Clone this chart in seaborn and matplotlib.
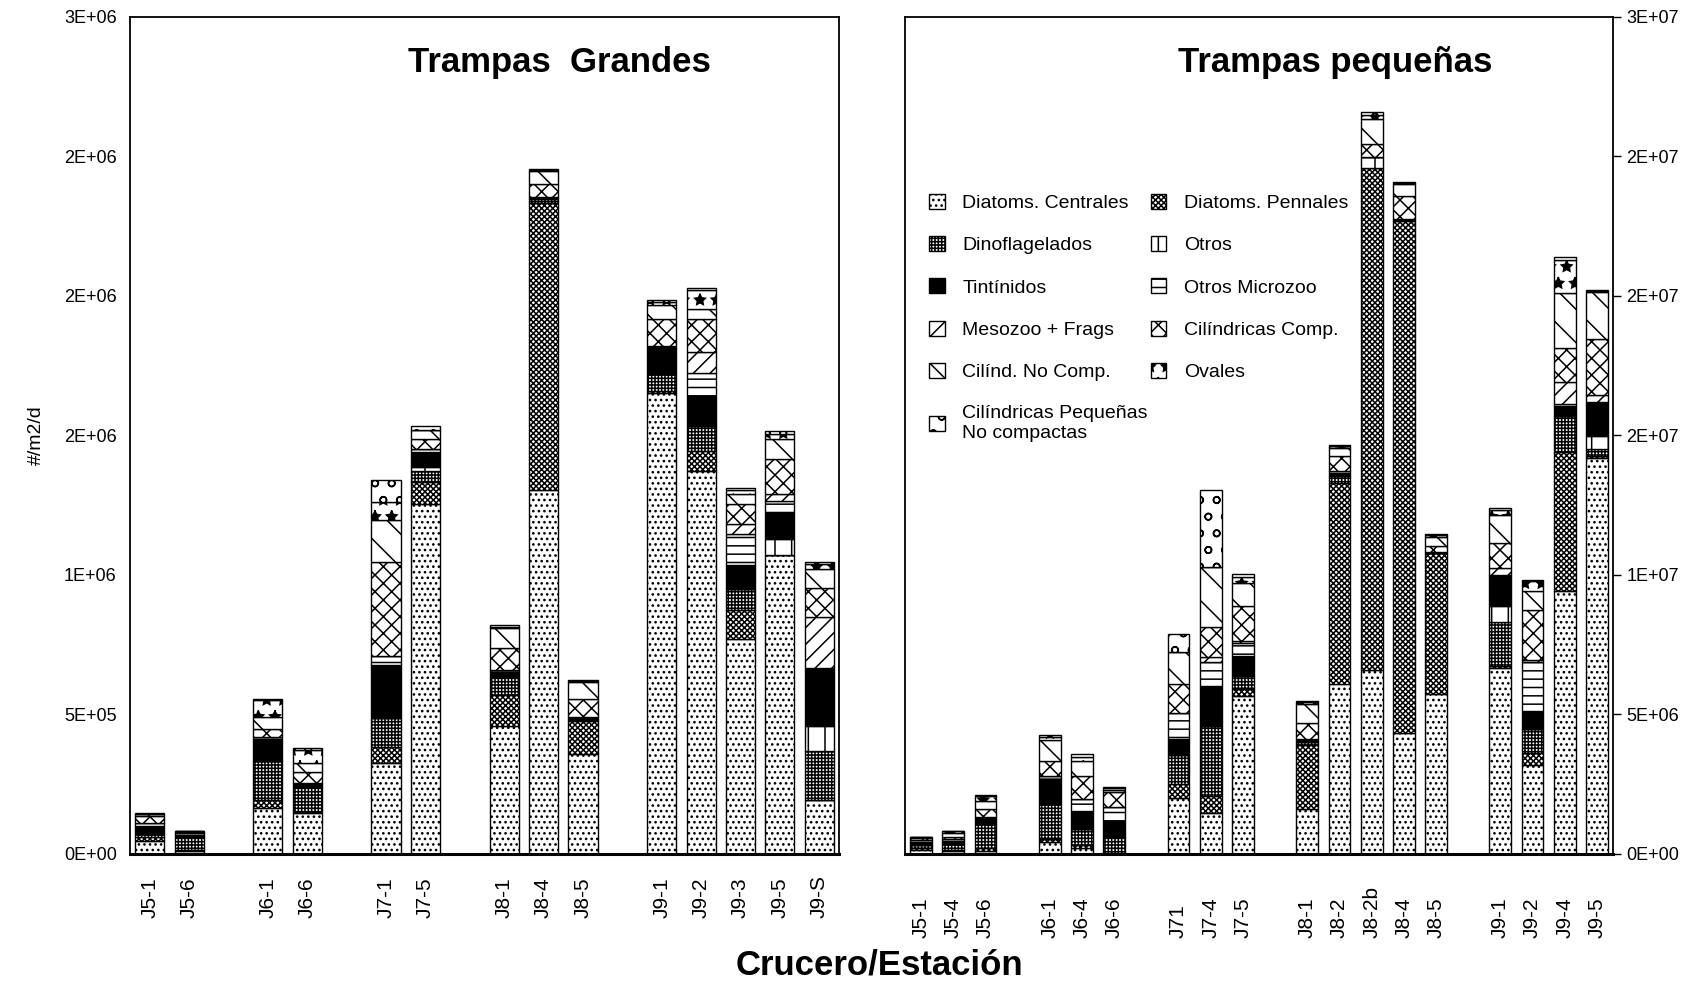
import numpy as np
import pandas as pd
import matplotlib
matplotlib.use("Agg")
import matplotlib.pyplot as plt
from matplotlib.patches import Patch
from matplotlib.colors import to_hex
from matplotlib.ticker import FuncFormatter, MultipleLocator
import seaborn as sns

# ---------------------------------------------------------------- data
# Groups in stacking order (bottom -> top)
grupos = ["Diatoms. Centrales", "Diatoms. Pennales", "Dinoflagelados", "Otros",
          "Tintínidos", "Otros Microzoo", "Mesozoo + Frags", "Cilíndricas Comp.",
          "Cilínd. No Comp.", "Ovales", "Cilíndricas Pequeñas\nNo compactas"]

# Trampas grandes: category axis (blank slots separate the cruises)
ejes_grandes = ["J5-1", "J5-6", "", "J6-1", "J6-6", "", "J7-1", "J7-5", "",
                "J8-1", "J8-4", "J8-5", "", "J9-1", "J9-2", "J9-3", "J9-5", "J9-S"]
# values in millions of #/m2/d, one entry per station (blanks skipped)
g_centrales = [0.045, 0.012, 0.164, 0.147, 0.325, 1.254, 0.459, 1.303, 0.357, 1.653, 1.372, 0.770, 1.072, 0.192]
g_pennales = [0.015, 0.004, 0.030, 0.003, 0.057, 0.078, 0.109, 1.029, 0.119, 0.005, 0.072, 0.106, 0.000, 0.000]
g_dino = [0.012, 0.045, 0.141, 0.090, 0.105, 0.042, 0.065, 0.016, 0.005, 0.063, 0.089, 0.073, 0.000, 0.178]
g_otros = [0.000, 0.000, 0.000, 0.000, 0.000, 0.012, 0.000, 0.000, 0.000, 0.000, 0.000, 0.000, 0.058, 0.089]
g_tint = [0.030, 0.008, 0.078, 0.010, 0.190, 0.054, 0.020, 0.005, 0.009, 0.096, 0.110, 0.085, 0.093, 0.205]
g_otrosmicro = [0.010, 0.005, 0.005, 0.003, 0.033, 0.012, 0.008, 0.003, 0.000, 0.005, 0.082, 0.112, 0.041, 0.003]
g_meso = [0.000, 0.000, 0.000, 0.000, 0.000, 0.000, 0.000, 0.000, 0.000, 0.000, 0.075, 0.038, 0.027, 0.182]
g_cilcomp = [0.025, 0.006, 0.031, 0.042, 0.335, 0.036, 0.077, 0.045, 0.067, 0.095, 0.117, 0.069, 0.126, 0.105]
g_cilnocomp = [0.006, 0.003, 0.042, 0.032, 0.152, 0.032, 0.073, 0.046, 0.060, 0.050, 0.037, 0.038, 0.069, 0.069]
g_ovales = [0.002, 0.001, 0.060, 0.046, 0.066, 0.000, 0.004, 0.004, 0.004, 0.010, 0.068, 0.012, 0.020, 0.015]
g_cilpeq = [0.002, 0.000, 0.005, 0.006, 0.078, 0.013, 0.005, 0.004, 0.004, 0.008, 0.008, 0.007, 0.010, 0.007]

# Trampas pequeñas
ejes_peq = ["J5-1", "J5-4", "J5-6", "", "J6-1", "J6-4", "J6-6", "", "J71", "J7-4", "J7-5", "",
            "J8-1", "J8-2", "J8-2b", "J8-4", "J8-5", "", "J9-1", "J9-2", "J9-4", "J9-5"]
p_centrales = [0.15, 0.10, 0.12, 0.42, 0.22, 0.02, 2.01, 1.46, 5.67, 1.61, 6.08, 6.60, 4.34, 5.73, 6.67, 3.19, 9.44, 14.20]
p_pennales = [0.05, 0.06, 0.10, 0.12, 0.10, 0.03, 0.50, 0.60, 0.24, 2.30, 7.21, 17.99, 18.34, 5.04, 0.05, 0.43, 4.97, 0.05]
p_dino = [0.12, 0.20, 0.85, 1.25, 0.57, 0.57, 1.02, 2.54, 0.48, 0.10, 0.27, 0.00, 0.05, 0.00, 1.58, 0.85, 1.28, 0.28]
p_otros = [0.00, 0.00, 0.00, 0.00, 0.00, 0.00, 0.00, 0.00, 0.00, 0.00, 0.00, 0.38, 0.00, 0.00, 0.57, 0.00, 0.00, 0.46]
p_tint = [0.12, 0.10, 0.25, 0.90, 0.66, 0.57, 0.60, 1.43, 0.72, 0.10, 0.10, 0.00, 0.03, 0.05, 1.09, 0.64, 0.38, 1.22]
p_otrosmicro = [0.05, 0.06, 0.02, 0.12, 0.42, 0.48, 0.92, 0.84, 0.44, 0.00, 0.05, 0.00, 0.00, 0.00, 0.05, 1.77, 0.05, 0.00]
p_meso = [0.00, 0.00, 0.00, 0.00, 0.00, 0.00, 0.00, 0.20, 0.10, 0.00, 0.00, 0.00, 0.00, 0.00, 0.24, 0.09, 0.80, 0.24]
p_cilcomp = [0.08, 0.08, 0.27, 0.51, 0.84, 0.54, 1.05, 1.05, 1.25, 0.58, 0.54, 0.49, 0.82, 0.21, 0.89, 1.76, 1.22, 1.99]
p_cilnocomp = [0.03, 0.15, 0.28, 0.76, 0.54, 0.10, 1.13, 2.17, 0.80, 0.69, 0.31, 0.87, 0.43, 0.34, 1.00, 0.71, 1.95, 1.70]
p_ovales = [0.01, 0.07, 0.20, 0.10, 0.14, 0.06, 0.00, 0.00, 0.22, 0.05, 0.05, 0.14, 0.04, 0.06, 0.18, 0.33, 1.21, 0.05]
p_cilpeq = [0.01, 0.02, 0.02, 0.08, 0.08, 0.04, 0.66, 2.75, 0.12, 0.04, 0.04, 0.12, 0.02, 0.04, 0.07, 0.05, 0.11, 0.04]

series_grandes = [g_centrales, g_pennales, g_dino, g_otros, g_tint, g_otrosmicro,
                  g_meso, g_cilcomp, g_cilnocomp, g_ovales, g_cilpeq]
series_peq = [p_centrales, p_pennales, p_dino, p_otros, p_tint, p_otrosmicro,
              p_meso, p_cilcomp, p_cilnocomp, p_ovales, p_cilpeq]

# ---------------------------------------------------------------- styles
# black & white fill for each group: (face colour, hatch)
estilos = {
    "Diatoms. Centrales": ("white", "..."),
    "Diatoms. Pennales": ("white", "xxxxxx"),
    "Dinoflagelados": ("white", "+++++"),
    "Otros": ("white", "|"),
    "Tintínidos": ("black", ""),
    "Otros Microzoo": ("white", "--"),
    "Mesozoo + Frags": ("white", "//"),
    "Cilíndricas Comp.": ("white", "xx"),
    "Cilínd. No Comp.": ("white", "\\"),
    "Ovales": ("white", "*"),
    "Cilíndricas Pequeñas\nNo compactas": ("white", "o"),
}
# temporary key colours used to identify each group's patches
claves = sns.color_palette("husl", len(grupos))
paleta = {g: c for g, c in zip(grupos, claves)}
clave_a_grupo = {to_hex(c): g for g, c in paleta.items()}


def tabla(ejes, series):
    estaciones = [s for s in ejes if s]
    filas = []
    for g, vals in zip(grupos, series):
        for est, v in zip(estaciones, vals):
            filas.append({"pos": ejes.index(est), "grupo": g, "valor": v * 1e6})
    return pd.DataFrame(filas)


sns.set_style("white")
plt.rcParams["font.family"] = ["Liberation Sans", "DejaVu Sans"]
plt.rcParams["hatch.linewidth"] = 1.1
for k in ("text.color", "axes.labelcolor", "xtick.color", "ytick.color", "axes.edgecolor"):
    plt.rcParams[k] = "black"

fig = plt.figure(figsize=(16.97, 9.86), dpi=100)
ax_g = fig.add_axes([0.0766, 0.1339, 0.4178, 0.8489])
ax_p = fig.add_axes([0.5333, 0.1339, 0.4172, 0.8489])


def dibujar(ax, ejes, series, ancho, ymax, titulo, titulo_x, lab_y, lab_size):
    df = tabla(ejes, series)
    sns.histplot(data=df, x="pos", weights="valor", hue="grupo",
                 hue_order=grupos[::-1], multiple="stack", discrete=True,
                 shrink=ancho, palette=paleta, alpha=1, edgecolor="black",
                 linewidth=1.0, legend=False, ax=ax)
    for p in ax.patches:
        g = clave_a_grupo.get(to_hex(p.get_facecolor(), keep_alpha=False))
        if g is None:
            continue
        fc, h = estilos[g]
        p.set_facecolor(fc)
        p.set_hatch(h)
        p.set_edgecolor("black")
    ax.set_xlim(-0.5, len(ejes) - 0.5)
    ax.set_ylim(0, ymax)
    ax.set_xticks(range(len(ejes)))
    ax.set_xticklabels([])
    ax.set_xlabel("")
    ax.set_ylabel("")
    ax.yaxis.set_major_locator(MultipleLocator(ymax / 6))
    ax.yaxis.set_major_formatter(FuncFormatter(lambda v, _: "%.0E" % v))
    for s in ax.spines.values():
        s.set_linewidth(1.3)
        s.set_color("black")
    ax.spines["bottom"].set_linewidth(2.2)
    ax.tick_params(axis="x", direction="out", length=5, width=1, colors="black")
    ax.tick_params(axis="y", direction="out", length=6, width=1,
                   labelsize=13, colors="black")
    for i, lab in enumerate(ejes):
        if lab:
            ax.text(i, lab_y, lab, rotation=90, ha="center", va="bottom",
                    fontsize=lab_size, color="black",
                    transform=ax.get_xaxis_transform())
    ax.text(titulo_x, 0.946, titulo, transform=ax.transAxes, ha="center",
            va="center", fontsize=25, fontweight="bold", color="black")


dibujar(ax_g, ejes_grandes, series_grandes, 0.74, 3e6, "Trampas  Grandes", 0.606, -0.077, 15)
dibujar(ax_p, ejes_peq, series_peq, 0.68, 3e7, "Trampas pequeñas", 0.608, -0.100, 15)

ax_p.yaxis.tick_right()

ax_g.set_ylabel("#/m2/d", fontsize=14, labelpad=14, color="black")
fig.text(0.518, 0.021, "Crucero/Estación", ha="center", va="center",
         fontsize=25, fontweight="bold", color="black")

# legend laid out row by row in stacking order
orden = list(range(0, len(grupos), 2)) + list(range(1, len(grupos), 2))
handles = [Patch(facecolor=estilos[grupos[i]][0], hatch=estilos[grupos[i]][1],
                 edgecolor="black", label=grupos[i]) for i in orden]
ax_p.legend(handles=handles, ncol=2, loc="upper left",
            bbox_to_anchor=(0.015, 0.805), frameon=False, fontsize=14,
            handlelength=0.8, handleheight=0.8, handletextpad=0.9,
            columnspacing=0.15, labelspacing=1.24, borderpad=0.2)

fig.savefig("out.png", dpi=100, facecolor="white")
